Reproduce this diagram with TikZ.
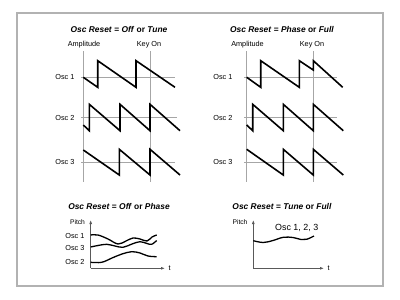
\documentclass[tikz,border=0pt]{standalone}
\usepackage{fontspec}
\setmainfont{Liberation Sans}
\usetikzlibrary{arrows.meta}
\newcommand{\resettitle}[2]{\textbf{\textit{Osc Reset} = \textit{#1} or \textit{#2}}}
\tikzset{
  wave/.style={line width=1.6pt},
  axisline/.style={gray!70,line width=0.8pt},
  lbl/.style={font=\fontsize{7.3}{8}\selectfont},
  ttl/.style={font=\fontsize{8.4}{10}\selectfont},
  pitcharrow/.style={gray!70!black,line width=0.8pt,-{Latex[length=4pt,width=3pt]}}
}
\begin{document}
\begin{tikzpicture}[x=1pt,y=-1pt]
  \useasboundingbox (0,0) rectangle (400,300);
  % Frame
  \draw[gray!60,line width=1.2pt] (17,13) rectangle (383,286);
  % Titles
  \node[ttl] (t1) at (119,29) {\resettitle{Off}{Tune}};
  \node[ttl] (t2) at (282,29) {\resettitle{Phase}{Full}};
  \node[ttl] (t3) at (119,206) {\resettitle{Off}{Phase}};
  \node[ttl] (t4) at (282,206) {\resettitle{Tune}{Full}};
  % Left panel: axes
  \node[lbl] (amp1) at (84,45) {Amplitude};
  \node[lbl] (key1) at (149,45) {Key On};
  \draw[axisline] (83.3,51) -- (83.3,182);
  \draw[axisline] (150,51) -- (150,182);
  \draw[axisline] (81,77.3) -- (175,77.3);
  \draw[axisline] (81,117.7) -- (177,117.7);
  \draw[axisline] (81,162.3) -- (175,162.3);
  \node[lbl,anchor=east] (o11) at (78,77.3) {Osc 1};
  \node[lbl,anchor=east] (o12) at (78,117.7) {Osc 2};
  \node[lbl,anchor=east] (o13) at (78,162.3) {Osc 3};
  % Left panel: waves
  \draw[wave] (83.3,77.3) -- (97.7,87.3) -- (97.7,60.7) -- (136,87.3)
    -- (136,60.7) -- (175,87.3);
  \draw[wave] (83.3,125) -- (89.3,130.7) -- (89.3,104.3) -- (120,130.7)
    -- (120,104.3) -- (150,130.7) -- (150,104.3) -- (180,130.7);
  \draw[wave] (83.3,150) -- (119.3,175) -- (119.3,149.3) -- (150,175)
    -- (150,149.3) -- (180,175);
  % Right panel: axes
  \node[lbl] (amp2) at (247.5,45) {Amplitude};
  \node[lbl] (key2) at (312,45) {Key On};
  \draw[axisline] (246.7,51) -- (246.7,182);
  \draw[axisline] (313.3,51) -- (313.3,182);
  \draw[axisline] (244,77.3) -- (336.7,77.3);
  \draw[axisline] (244,117.7) -- (336.7,117.7);
  \draw[axisline] (244,162.3) -- (336.7,162.3);
  \node[lbl,anchor=east] (o21) at (236,77.3) {Osc 1};
  \node[lbl,anchor=east] (o22) at (236,117.7) {Osc 2};
  \node[lbl,anchor=east] (o23) at (236,162.3) {Osc 3};
  % Right panel: waves
  \draw[wave] (246.7,77.3) -- (260.7,87.3) -- (260.7,60.7) -- (299.3,87.3)
    -- (299.3,60.7) -- (313.3,70) -- (313.3,60.7) -- (342.7,87.3);
  \draw[wave] (246.7,125) -- (252.7,130.7) -- (252.7,104.3) -- (283.3,130.7)
    -- (283.3,104.3) -- (313.3,130.7) -- (313.3,104.3) -- (343.3,130.7);
  \draw[wave] (246.7,149.3) -- (283.3,175) -- (283.3,149.3) -- (313.3,175)
    -- (313.3,149.3) -- (343.3,175);
  % Pitch, Off or Phase
  \coordinate (p1o) at (90.7,268.3);
  \draw[pitcharrow] (p1o) -- (90.7,220);
  \draw[pitcharrow] (p1o) -- (165,268.3);
  \node[lbl,anchor=east,font=\fontsize{6.7}{7}\selectfont] (pitch1) at (88.5,222) {Pitch};
  \node[lbl,anchor=west] (time1) at (165,268.3) {t};
  \node[lbl,anchor=east] (c1) at (88,236) {Osc 1};
  \node[lbl,anchor=east] (c3) at (88,248) {Osc 3};
  \node[lbl,anchor=east] (c2) at (88,262) {Osc 2};
  \draw[wave,line width=1.3pt] plot[smooth,tension=0.6] coordinates {(90.7,235) (98,235)
    (108,239) (118,244) (126,241) (133,238) (140,239) (147,241) (152,237) (156.7,235)};
  \draw[wave,line width=1.3pt] plot[smooth,tension=0.6] coordinates {(90.7,247) (98,245.5)
    (106.7,244.3) (115,246) (123,247.3) (132,244) (140,241.7) (147,243.5) (151.7,244.3) (156.7,240.5)};
  \draw[wave,line width=1.3pt] plot[smooth,tension=0.6] coordinates {(90.7,262.3) (101.7,262.3)
    (112,258) (122,254) (131.7,251.7) (140,253) (148,256) (156.7,256.7)};
  % Pitch, Tune or Full
  \coordinate (p2o) at (253.3,268.3);
  \draw[pitcharrow] (p2o) -- (253.3,220);
  \draw[pitcharrow] (p2o) -- (324,268.3);
  \node[lbl,anchor=east,font=\fontsize{6.7}{7}\selectfont] (pitch2) at (251,222) {Pitch};
  \node[lbl,anchor=west] (time2) at (324,268.3) {t};
  \node[font=\fontsize{8.9}{10}\selectfont] (call) at (296.7,227.5) {Osc 1, 2, 3};
  \draw[wave,line width=1.3pt] plot[smooth,tension=0.6] coordinates {(253.3,240.7) (263.3,242.5)
    (273,240.5) (283.3,237.3) (293,237.5) (301,239.5) (306.7,239.3) (314,236)};
\end{tikzpicture}
\end{document}
